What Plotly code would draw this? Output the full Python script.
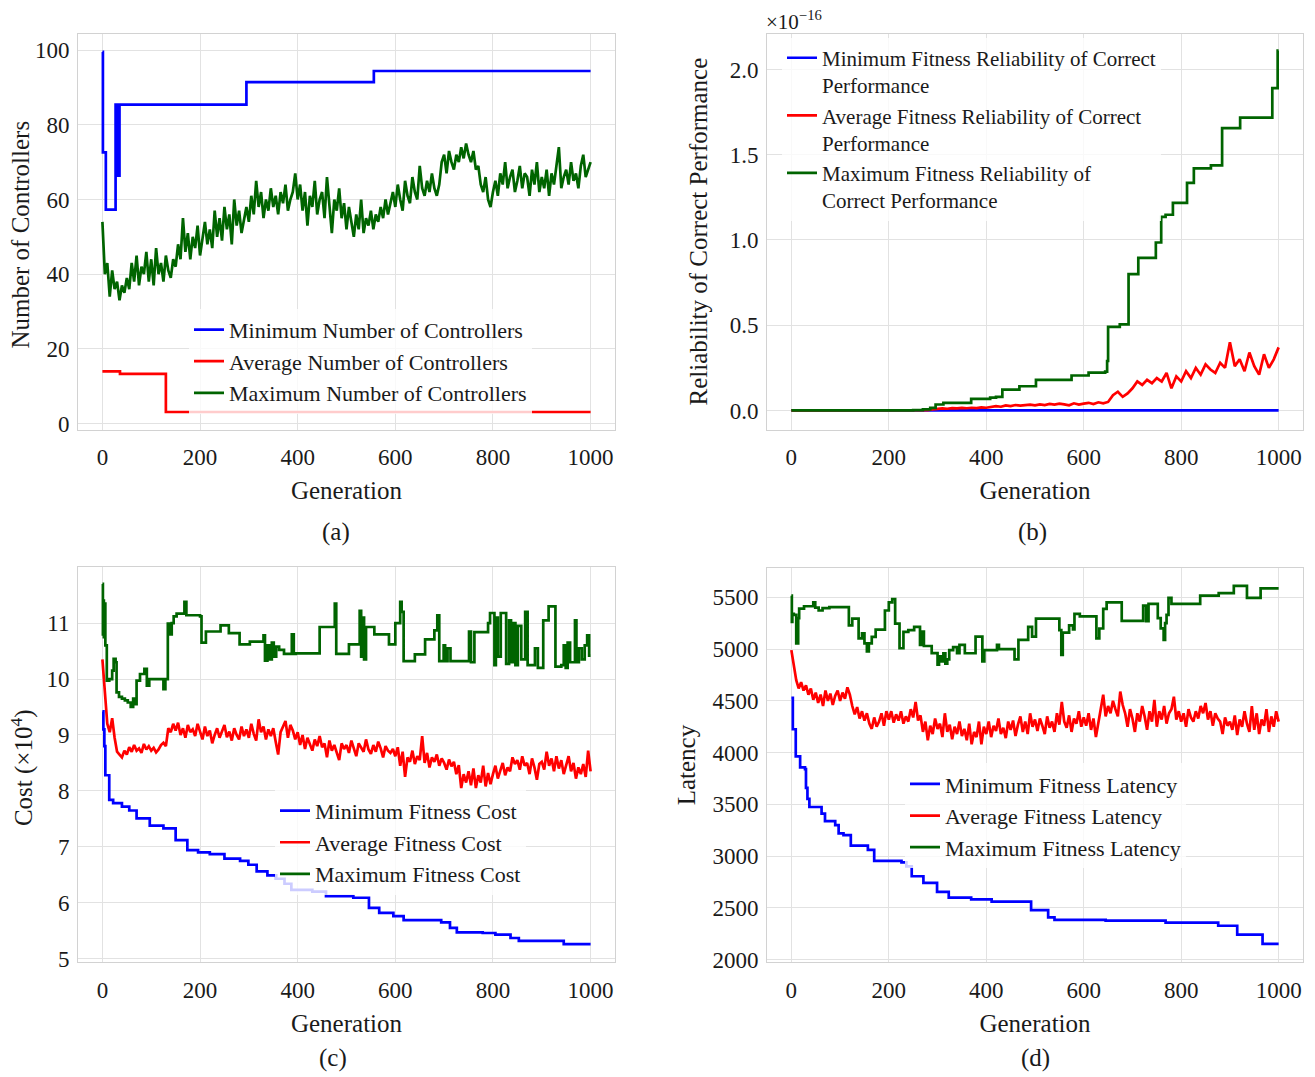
import plotly.graph_objects as go

# The page body margin is removed by a small post script, so the figure fills the window
PAGE_OFF = 0
W, H = 1315, 1077
FONT = "Liberation Serif"
FS_TICK = 23
FS_TITLE = 25
FS_LEG = 22
BLUE, RED, GREEN = "#0000ff", "#ff0000", "#006400"

# ---------------- Panel (a): Number of controllers ----------------
a_min_gen = [0, 1, 7, 27, 29, 31, 33, 35, 38, 295, 556, 1000]
a_min_val = [99.5, 72.6, 57.3, 85.4, 66.4, 85.4, 66.4, 85.4, 85.4, 91.4, 94.4, 94.4]
a_avg_gen = [0, 36, 130, 1000]
a_avg_val = [14.0, 13.3, 3.1, 3.1]
a_max_gen = list(range(0, 1001, 5))
a_max_val = [
    54, 40, 43, 34, 41, 36, 38, 33, 37, 35,
    39, 36, 43, 38, 45, 37, 42, 40, 46, 38,
    44, 37, 47, 40, 43, 38, 45, 41, 39, 44,
    42, 48, 44, 55, 46, 51, 44, 50, 47, 53,
    45, 49, 54, 48, 52, 47, 57, 50, 55, 49,
    58, 52, 56, 48, 60, 53, 57, 51, 55, 58,
    54, 61, 56, 65, 58, 62, 55, 60, 57, 63,
    58, 61, 56, 62, 59, 64, 57, 60, 62, 67,
    60, 64, 57, 62, 53, 61, 58, 65, 56, 60,
    62, 55, 66, 58, 51, 60, 57, 63, 55, 59,
    52, 58, 54, 50, 56, 52, 60, 51, 55, 53,
    57, 52, 56, 54, 58, 55, 60, 56, 59, 62,
    58, 64, 60, 57, 65, 61, 59, 66, 62, 60,
    69, 63, 61, 65, 62, 67, 63, 61, 64, 70,
    72, 67, 73, 70, 68, 72, 70, 74, 71, 75,
    72, 70, 73, 68, 69, 64, 62, 66, 60, 58,
    62, 65, 61, 67, 64, 70, 63, 66, 68, 62,
    65, 69, 63, 67, 66, 61, 68, 64, 70, 62,
    66, 63, 68, 61, 67, 64, 69, 74, 63, 66,
    68, 64, 70, 65, 67, 63, 69, 72, 66, 68,
    70,
]

# ---------------- Panel (b): Reliability (units of 1e-16) ----------------
b_min_gen = [0, 1000]
b_min_val = [0.0, 0.0]
b_avg_gen = list(range(0, 1001, 10))
b_avg_val = [
    0, 0, 0, 0, 0, 0, 0, 0, 0, 0,
    0, 0, 0, 0, 0, 0, 0, 0, 0, 0,
    0, 0, 0, 0, 0, 0, 0, 0, 0.002, 0.006,
    0.01, 0.012, 0.01, 0.014, 0.012, 0.015, 0.013, 0.016, 0.014, 0.018,
    0.016, 0.02, 0.025, 0.022, 0.03, 0.026, 0.032, 0.028, 0.03, 0.034,
    0.03, 0.036, 0.032, 0.038, 0.034, 0.04, 0.036, 0.03, 0.042, 0.035,
    0.04, 0.045, 0.038, 0.048, 0.042, 0.05, 0.09, 0.11, 0.08, 0.1,
    0.13, 0.17, 0.15, 0.18, 0.16, 0.19, 0.17, 0.22, 0.13, 0.2,
    0.17, 0.23, 0.19, 0.25, 0.21, 0.27, 0.24, 0.22, 0.28, 0.25,
    0.4, 0.26, 0.3, 0.23, 0.34, 0.26, 0.21, 0.33, 0.25, 0.3,
    0.37,
]
b_max_gen = [0, 250, 270, 285, 296, 312, 369, 408, 420, 433, 468, 502, 575, 610, 644, 648,
             650, 674, 692, 712, 748, 759, 768, 783, 812, 826, 861, 884, 921, 987, 998, 1000]
b_max_val = [0, 0.002, 0.006, 0.015, 0.035, 0.045, 0.068, 0.075, 0.08, 0.122, 0.142, 0.18,
             0.205, 0.222, 0.228, 0.29, 0.49, 0.505, 0.80, 0.895, 0.985, 1.135, 1.148, 1.218,
             1.335, 1.42, 1.437, 1.656, 1.717, 1.89, 2.11, 2.11]

# ---------------- Panel (c): Cost (x1e4) ----------------
c_min_gen = [0, 2, 4, 6, 14, 22, 40, 55, 70, 97, 125, 150, 174, 196, 220, 250, 282, 299, 316,
             338, 356, 373, 387, 430, 458, 514, 546, 567, 596, 617, 694, 712, 726, 779, 805,
             836, 853, 945, 1000]
c_min_val = [9.42, 9.1, 8.8, 8.28, 7.84, 7.78, 7.72, 7.65, 7.51, 7.38, 7.33, 7.12, 6.94, 6.9,
             6.87, 6.79, 6.75, 6.68, 6.56, 6.49, 6.43, 6.34, 6.23, 6.2, 6.12, 6.09, 5.91, 5.82,
             5.76, 5.69, 5.65, 5.55, 5.47, 5.46, 5.43, 5.37, 5.32, 5.26, 5.26]
c_avg_gen = list(range(0, 1001, 5))
c_avg_val = [
    10.35, 9.8, 9.2, 9.05, 9.3, 8.95, 8.7, 8.65, 8.6, 8.72,
    8.65, 8.78, 8.7, 8.82, 8.72, 8.76, 8.68, 8.84, 8.74, 8.8,
    8.72, 8.77, 8.69, 8.74, 8.82, 8.86, 8.8, 9.12, 9.05, 9.2,
    9.08, 9.22, 9.0, 9.12, 8.95, 9.18, 9.05, 9.1, 8.98, 9.2,
    9.05, 8.92, 9.15, 8.98, 9.08, 8.85, 9.0, 9.12, 8.95, 9.05,
    9.18, 8.96, 9.06, 8.9, 9.12, 9.0, 8.92, 9.15, 8.98, 9.1,
    8.95, 9.2, 9.02, 8.9, 9.28, 9.05, 9.15, 8.92, 9.1, 8.98,
    9.12, 8.88, 8.65, 9.05, 9.15, 9.25, 8.95, 9.18, 9.08, 8.92,
    9.05, 8.82, 9.0, 8.75, 8.95, 8.85, 8.72, 8.92, 8.8, 8.98,
    8.78, 8.85, 8.6, 8.9, 8.72, 8.82, 8.68, 8.55, 8.85, 8.75,
    8.82, 8.68, 8.9, 8.75, 8.62, 8.85, 8.78, 8.7, 8.92, 8.74,
    8.66, 8.82, 8.7, 8.88, 8.76, 8.6, 8.8, 8.72, 8.68, 8.75,
    8.62, 8.78, 8.45, 8.7, 8.25, 8.6, 8.52, 8.72, 8.48, 8.62,
    8.55, 8.98, 8.5, 8.68, 8.42, 8.6, 8.52, 8.65, 8.45, 8.58,
    8.5, 8.38, 8.56, 8.44, 8.52, 8.3, 8.46, 8.05, 8.3, 8.15,
    8.35, 8.1, 8.4, 8.05, 8.28, 8.15, 8.45, 8.08, 8.32, 8.12,
    8.3, 8.45, 8.22, 8.38, 8.5, 8.28, 8.42, 8.35, 8.6, 8.48,
    8.55, 8.38, 8.62, 8.45, 8.5, 8.3, 8.58, 8.42, 8.2, 8.48,
    8.52, 8.38, 8.7, 8.45, 8.58, 8.35, 8.62, 8.4, 8.55, 8.3,
    8.45, 8.62, 8.35, 8.5, 8.22, 8.42, 8.3, 8.48, 8.25, 8.72,
    8.35,
]
c_max_gen = [0, 1, 2, 3, 4, 6, 9, 14, 20, 23, 27, 29, 34, 40, 46, 52, 58, 63, 66, 70, 77, 86,
             91, 96, 125, 129, 134, 138, 142, 146, 152, 168, 172, 200, 203, 212, 242, 259, 281,
             302, 330, 333, 338, 342, 347, 351, 356, 362, 372, 388, 392, 396, 445, 476, 479,
             505, 527, 530, 533, 536, 540, 557, 587, 600, 610, 613, 617, 640, 661, 680, 686,
             690, 699, 702, 707, 713, 751, 755, 762, 790, 794, 803, 806, 810, 816, 827, 833,
             837, 842, 846, 851, 858, 866, 871, 886, 892, 903, 914, 928, 940, 945, 949, 953,
             958, 968, 971, 976, 982, 988, 993, 997, 1000]
c_max_val = [11.7, 10.8, 11.4, 10.75, 11.35, 10.6, 9.97, 10.0, 10.15, 10.36, 10.3, 9.76, 9.68,
             9.65, 9.62, 9.58, 9.5, 9.65, 9.55, 9.97, 10.09, 10.18, 9.88, 10.0, 9.82, 10.0,
             10.99, 10.8, 11.0, 11.12, 11.17, 11.38, 11.14, 11.12, 10.65, 10.85, 10.96, 10.82,
             10.62, 10.67, 10.78, 10.33, 10.6, 10.35, 10.65, 10.4, 10.58, 10.52, 10.45, 10.8,
             10.45, 10.46, 10.93, 11.35, 10.45, 10.62, 11.22, 10.4, 11.1, 10.35, 10.93, 10.8,
             10.62, 11.0, 11.38, 11.2, 10.32, 10.44, 10.71, 10.87, 11.14, 10.32, 10.6, 10.32,
             10.55, 10.32, 10.85, 10.3, 10.84, 11.0, 11.18, 10.25, 11.1, 10.4, 11.18, 10.27,
             11.05, 10.3, 11.0, 10.25, 10.95, 10.35, 11.2, 10.25, 10.55, 10.2, 11.05, 11.3,
             10.22, 10.25, 10.6, 10.2, 10.65, 10.3, 11.05, 10.3, 10.55, 10.35, 10.6, 10.78,
             10.42, 10.42]

# ---------------- Panel (d): Latency ----------------
d_min_gen = [0, 3, 9, 18, 28, 30, 33, 37, 62, 69, 90, 97, 107, 122, 157, 170, 226, 236, 247,
             271, 299, 323, 369, 411, 492, 527, 540, 645, 768, 876, 915, 967, 1000]
d_min_val = [4530, 4226, 3964, 3857, 3840, 3660, 3554, 3475, 3411, 3338, 3300, 3220, 3204,
             3102, 3061, 2955, 2940, 2901, 2806, 2742, 2656, 2599, 2583, 2561, 2478, 2408,
             2385, 2378, 2358, 2328, 2242, 2153, 2153]
d_avg_gen = list(range(0, 1001, 5))
d_avg_val = [
    4990, 4830, 4700, 4620, 4680, 4600, 4650, 4560, 4620, 4510,
    4580, 4480, 4560, 4450, 4600, 4500, 4570, 4460, 4550, 4600,
    4500, 4580, 4520, 4630, 4560, 4450, 4370, 4440, 4330, 4400,
    4310, 4380, 4280, 4230, 4340, 4250, 4300, 4380, 4260, 4400,
    4320, 4400, 4290, 4370, 4310, 4400, 4280, 4350, 4300, 4420,
    4340, 4490, 4310, 4360, 4200, 4300, 4120, 4260, 4180, 4330,
    4230, 4280, 4150, 4380, 4200, 4270, 4130, 4250, 4180, 4300,
    4160, 4230, 4120, 4280, 4080, 4200, 4150, 4300, 4080, 4250,
    4180, 4300, 4150, 4260, 4210, 4330, 4180, 4240, 4140, 4300,
    4220, 4310, 4160, 4270, 4350, 4200, 4300, 4180, 4380, 4250,
    4320, 4210, 4330, 4260, 4180, 4350, 4240, 4300, 4200, 4380,
    4270, 4490, 4300, 4240, 4360, 4200, 4330, 4280, 4400, 4250,
    4340, 4260, 4380, 4220, 4330, 4150, 4300, 4420, 4560, 4350,
    4450, 4380, 4500, 4420, 4350, 4590, 4460, 4380, 4250, 4420,
    4330, 4200, 4380, 4300, 4450, 4350, 4220, 4400, 4300, 4510,
    4250, 4400, 4320, 4450, 4280, 4380, 4420, 4540, 4320, 4400,
    4300, 4380, 4250, 4420, 4340, 4300, 4400, 4330, 4450, 4380,
    4480, 4320, 4400, 4260, 4380, 4330, 4300, 4180, 4340, 4260,
    4300, 4220, 4360, 4170, 4320, 4250, 4400, 4280, 4200, 4450,
    4220, 4380, 4180, 4320, 4260, 4420, 4200, 4350, 4250, 4400,
    4300,
]
d_max_gen = [0, 1, 2, 5, 10, 14, 16, 26, 45, 49, 56, 64, 78, 118, 125, 138, 145, 150, 155, 159,
             165, 173, 192, 200, 207, 213, 222, 230, 240, 252, 264, 268, 272, 288, 300, 303,
             308, 312, 316, 320, 324, 332, 340, 345, 356, 378, 392, 396, 422, 426, 458, 466,
             486, 494, 502, 550, 554, 557, 570, 578, 581, 592, 626, 632, 640, 647, 678, 722,
             728, 733, 752, 758, 764, 767, 770, 774, 780, 839, 877, 908, 935, 963, 1000]
d_max_val = [5516, 5262, 5340, 5330, 5056, 5300, 5390, 5414, 5452, 5400, 5373, 5395, 5405, 5230,
             5294, 5104, 5151, 5056, 4977, 5056, 5119, 5189, 5373, 5452, 5484, 5246, 5008, 5167,
             5183, 5215, 5040, 5170, 5030, 4961, 4850, 4930, 4880, 4960, 4860, 4900, 4990, 5020,
             4960, 5040, 4960, 5120, 4880, 4990, 5040, 5000, 4900, 5090, 5215, 5120, 5294, 5183,
             4945, 5160, 5230, 5190, 5341, 5316, 5104, 5199, 5389, 5452, 5272, 5420, 5270, 5437,
             5300, 5200, 5088, 5250, 5330, 5494, 5437, 5516, 5541, 5611, 5494, 5586, 5586]

# ---------------- Figure ----------------
fig = go.Figure()


def add(x, y, name, color, ax, leg, shape="linear"):
    fig.add_trace(go.Scatter(
        x=x, y=y, name=name, mode="lines",
        line=dict(color=color, width=2.7, shape=shape),
        xaxis="x" + ax, yaxis="y" + ax, legend=leg,
    ))


add(a_min_gen, a_min_val, "Minimum Number of Controllers", BLUE, "", "legend", "hv")
add(a_avg_gen, a_avg_val, "Average Number of Controllers", RED, "", "legend", "hv")
add(a_max_gen, a_max_val, "Maximum Number of Controllers", GREEN, "", "legend")

add(b_min_gen, b_min_val, "Minimum Fitness Reliability of Correct<br>Performance", BLUE, "2", "legend2", "hv")
add(b_avg_gen, b_avg_val, "Average Fitness Reliability of Correct<br>Performance", RED, "2", "legend2")
add(b_max_gen, b_max_val, "Maximum Fitness Reliability of<br>Correct Performance", GREEN, "2", "legend2", "hv")

add(c_min_gen, c_min_val, "Minimum Fitness Cost", BLUE, "3", "legend3", "hv")
add(c_avg_gen, c_avg_val, "Average Fitness Cost", RED, "3", "legend3")
add(c_max_gen, c_max_val, "Maximum Fitness Cost", GREEN, "3", "legend3", "hv")

add(d_min_gen, d_min_val, "Minimum Fitness Latency", BLUE, "4", "legend4", "hv")
add(d_avg_gen, d_avg_val, "Average Fitness Latency", RED, "4", "legend4")
add(d_max_gen, d_max_val, "Maximum Fitness Latency", GREEN, "4", "legend4", "hv")


# positions below are given in page pixels
def px_x(p):
    return (p - PAGE_OFF) / W


def px_y(p):
    return 1 - (p - PAGE_OFF) / H


GRID = "#e2e2e2"
FRAME = "#d2d2d2"


def xax(l, r, anchor):
    return dict(
        domain=[px_x(l), px_x(r)], anchor=anchor, range=[-50, 1050],
        tickvals=[0, 200, 400, 600, 800, 1000],
        tickfont=dict(size=FS_TICK),
        title=dict(text="Generation", font=dict(size=FS_TITLE), standoff=12),
        showline=True, mirror=True, linecolor=FRAME, linewidth=1,
        showgrid=True, gridcolor=GRID, gridwidth=1, zeroline=False,
        ticks="", ticklen=0, ticklabelstandoff=7,
    )


def yax(t, b, anchor, rng, tickvals, title, standoff, fmt=None):
    d = dict(
        domain=[px_y(b), px_y(t)], anchor=anchor, range=rng, tickvals=tickvals,
        tickfont=dict(size=FS_TICK),
        showline=True, mirror=True, linecolor=FRAME, linewidth=1,
        showgrid=True, gridcolor=GRID, gridwidth=1, zeroline=False,
        ticks="", ticklen=0, ticklabelstandoff=3,
    )
    if title:
        d["title"] = dict(text=title, font=dict(size=FS_TITLE), standoff=standoff)
    if fmt:
        d["tickformat"] = fmt
    return d


def legend(x_px, y_px, size=FS_LEG):
    return dict(
        x=px_x(x_px), y=px_y(y_px), xanchor="left", yanchor="top",
        bgcolor="rgba(255,255,255,0.8)", borderwidth=0,
        font=dict(family=FONT, size=size, color="#1a1a1a"),
        valign="top", tracegroupgap=0,
    )


def caption(text, x, y):
    return dict(text=text, x=px_x(x), y=px_y(y), xref="paper", yref="paper",
                xanchor="center", yanchor="middle", showarrow=False,
                font=dict(size=FS_TITLE))


def side_title(text, x, y):
    # y-axis titles of the left column sit at the page edge, placed explicitly
    return dict(text=text, x=px_x(x), y=px_y(y), xref="paper", yref="paper",
                xanchor="center", yanchor="middle", textangle=-90, showarrow=False,
                font=dict(size=FS_TITLE))


fig.update_layout(
    width=W, height=H, autosize=False,
    margin=dict(l=0, r=0, t=0, b=0),
    paper_bgcolor="white", plot_bgcolor="white",
    font=dict(family=FONT, size=FS_TICK, color="#1a1a1a"),
    showlegend=True,
    xaxis=xax(78, 615, "y"),
    yaxis=yax(34, 434, "x", [-1.6, 104.4], [0, 20, 40, 60, 80, 100], None, 0),
    xaxis2=xax(767, 1303, "y2"),
    yaxis2=yax(34, 434, "x2", [-0.112, 2.21], [0, 0.5, 1.0, 1.5, 2.0],
               "Reliability of Correct Performance", 14, ".1f"),
    xaxis3=xax(78, 615, "y3"),
    yaxis3=yax(573, 972, "x3", [4.94, 12.0], [5, 6, 7, 8, 9, 10, 11], None, 0),
    xaxis4=xax(767, 1303, "y4"),
    yaxis4=yax(574, 972, "x4", [1977, 5782], [2000, 2500, 3000, 3500, 4000, 4500, 5000, 5500],
               "Latency", 9, "d"),
    legend=legend(189, 312),
    legend2=legend(782, 38, 21),
    legend3=legend(275, 798),
    legend4=legend(905, 771),
    annotations=[
        side_title("Number of Controllers", 21, 237),
        side_title("Cost (×10<sup>4</sup>)", 22, 776),
        caption("(a)", 336, 537),
        caption("(b)", 1032, 537),
        caption("(c)", 333, 1069),
        caption("(d)", 1035, 1069),
        dict(text="×10<sup>−16</sup>", x=px_x(764), y=px_y(21), xref="paper", yref="paper",
             xanchor="left", yanchor="middle", showarrow=False, font=dict(size=21)),
    ],
)

fig.write_html(
    "out.html",
    config={"displayModeBar": False},
    post_script="document.body.style.margin='0px';document.body.style.overflow='hidden';",
)
